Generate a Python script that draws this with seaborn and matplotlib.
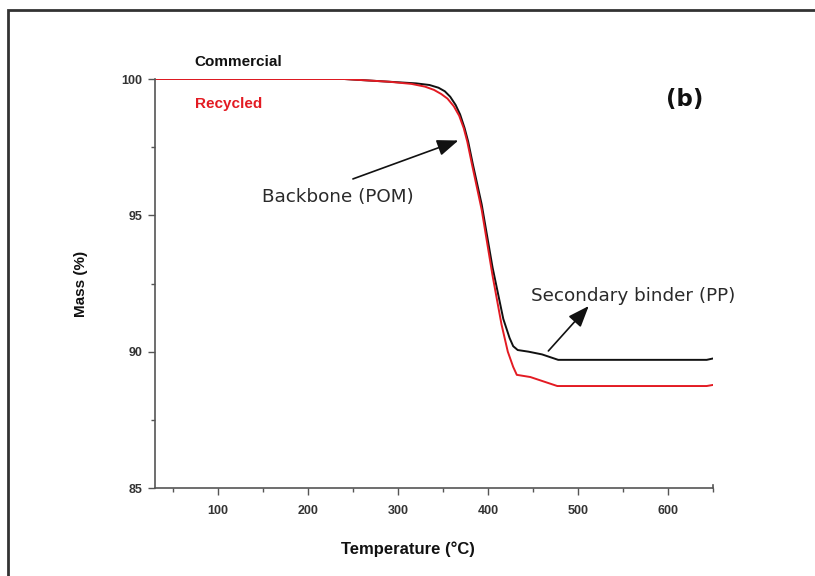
import matplotlib
matplotlib.use("Agg")
import matplotlib.pyplot as plt
from matplotlib.patches import Rectangle
from matplotlib.ticker import MultipleLocator
import seaborn as sns
import pandas as pd

# Data
temp_commercial = [30, 240, 290, 320, 335, 345, 352, 358, 364, 369, 374, 378, 383, 393,
                   405, 417, 424, 428, 433, 445, 460, 478, 600, 643, 650]
mass_commercial = [100.0, 100.0, 99.9, 99.84, 99.78, 99.68, 99.55, 99.35, 99.05, 98.7,
                   98.2, 97.7, 96.9, 95.4, 93.1, 91.2, 90.5, 90.2, 90.06, 90.0, 89.9,
                   89.7, 89.7, 89.7, 89.75]
temp_recycled = [30, 240, 290, 315, 330, 340, 348, 355, 362, 368, 373, 377, 382, 393,
                 405, 415, 422, 428, 432, 447, 477, 600, 643, 650]
mass_recycled = [100.0, 100.0, 99.9, 99.82, 99.72, 99.6, 99.45, 99.28, 99.0, 98.65,
                 98.2, 97.7, 96.9, 95.2, 92.8, 91.0, 90.0, 89.44, 89.15, 89.07, 88.74,
                 88.74, 88.74, 88.78]
series_names = ["Commercial", "Recycled"]
series_colors = ["#111111", "#e31b23"]
x_ticks = [100, 200, 300, 400, 500, 600]
y_ticks = [85, 90, 95, 100]

df = pd.concat([
    pd.DataFrame({"T": temp_commercial, "M": mass_commercial, "s": series_names[0]}),
    pd.DataFrame({"T": temp_recycled, "M": mass_recycled, "s": series_names[1]}),
])

sns.set_style("ticks")
plt.rcParams["font.family"] = ["Liberation Sans", "DejaVu Sans"]

fig = plt.figure(figsize=(8.15, 5.76), dpi=100)
ax = fig.add_axes([155/815, 1-488/576, (713-155)/815, (488-79)/576])

sns.lineplot(data=df, x="T", y="M", hue="s", palette=series_colors,
             hue_order=series_names, ax=ax, legend=False, linewidth=1.4,
             sort=False, estimator=None)

ax.set_xlim(30, 650)
ax.set_ylim(85, 100)
ax.set_xticks(x_ticks)
ax.set_yticks(y_ticks)
ax.xaxis.set_minor_locator(MultipleLocator(50))
ax.yaxis.set_minor_locator(MultipleLocator(2.5))
ax.tick_params(axis="both", which="major", direction="out", length=5, width=1,
               color="#555555", labelsize=9, pad=4)
ax.tick_params(axis="both", which="minor", direction="out", length=3, width=1,
               color="#555555")
for lab in ax.get_xticklabels() + ax.get_yticklabels():
    lab.set_fontweight("bold")
    lab.set_color("#333333")
ax.xaxis.set_tick_params(pad=7)

ax.spines["top"].set_visible(False)
ax.spines["right"].set_bounds(85, 85.12)
for s in ["left", "bottom", "right"]:
    ax.spines[s].set_color("#555555")
    ax.spines[s].set_linewidth(1.2)

ax.set_xlabel("Temperature (°C)", fontsize=12, fontweight="bold", color="#111111")
ax.set_ylabel("Mass (%)", fontsize=11, fontweight="bold", color="#111111")
ax.xaxis.set_label_coords(0.453, -0.13)
ax.yaxis.set_label_coords(-0.12, 0.50)

ax.text(74, 100.62, series_names[0], fontsize=11, fontweight="bold",
        color=series_colors[0], va="center", ha="left")
ax.text(74, 99.08, series_names[1], fontsize=11, fontweight="bold",
        color=series_colors[1], va="center", ha="left")
ax.text(0.95, 0.949, "(b)", transform=ax.transAxes, fontsize=16.5, fontweight="bold",
        color="#111111", ha="center", va="center", family=["DejaVu Sans"])

ann_font = ["DejaVu Sans"]
arrow_style = "-|>,head_length=1.3,head_width=0.5"
ax.annotate("", xy=(370, 97.78), xytext=(247, 96.3),
            arrowprops=dict(arrowstyle=arrow_style, color="#111111", lw=1.2))
ax.text(149, 95.67, "Backbone (POM)", fontsize=13.2, family=ann_font,
        color="#2a2a2a", ha="left", va="center")
ax.annotate("", xy=(514, 91.75), xytext=(465, 89.95),
            arrowprops=dict(arrowstyle=arrow_style, color="#111111", lw=1.2))
ax.text(448, 92.04, "Secondary binder (PP)", fontsize=13.2, family=ann_font,
        color="#2a2a2a", ha="left", va="center")

# outer frame of the reference picture
fig.patches.append(Rectangle((8/815, -0.05), 1.1, 1-10/576+0.05, transform=fig.transFigure,
                             fill=False, edgecolor="#333333", linewidth=2))

fig.savefig("out.png", dpi=100)
